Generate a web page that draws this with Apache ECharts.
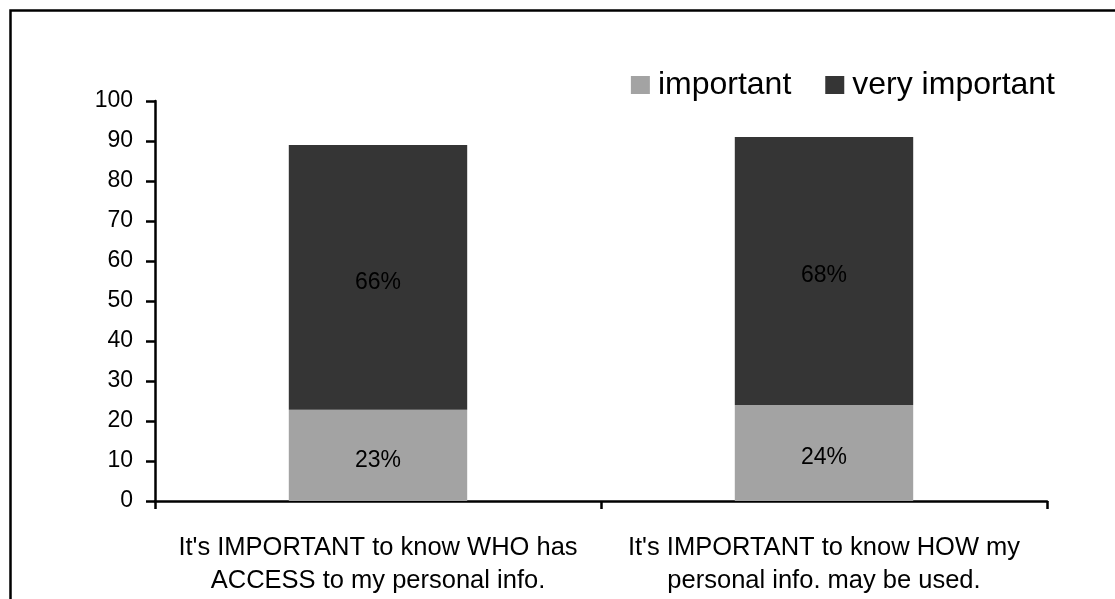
<!DOCTYPE html>
<html>
<head>
<meta charset="utf-8">
<script src="https://cdn.jsdelivr.net/npm/echarts@6/dist/echarts.min.js"></script>
<style>
  html, body { margin: 0; padding: 0; background: #fff; }
  #chart { width: 1115px; height: 599px; }
</style>
</head>
<body>
<div id="chart"></div>
<script>
// data
const categories = [
  "It's IMPORTANT to know WHO has\nACCESS to my personal info.",
  "It's IMPORTANT to know HOW my\npersonal info. may be used."
];
const seriesNames = ['important', 'very important'];
const important = [22.8, 24];
const veryImportant = [66.2, 67];
const importantLabels = ['23%', '24%'];
const veryImportantLabels = ['66%', '68%'];
const yTicks = { min: 0, max: 100, interval: 10 };

const FONT = '"Liberation Sans", Arial, sans-serif';
const chart = echarts.init(document.getElementById('chart'));

const barLabel = (labels) => ({
  show: true,
  position: 'inside',
  offset: [0, 5],
  color: '#000',
  fontFamily: FONT,
  fontSize: 23,
  formatter: (p) => labels[p.dataIndex],
});

chart.setOption({
  animation: false,
  backgroundColor: '#fff',
  graphic: [{
    type: 'rect',
    shape: { x: 10.5, y: 10.5, width: 1120, height: 620 },
    style: { fill: 'none', stroke: '#000', lineWidth: 2.5 },
    silent: true,
  }],
  legend: {
    right: 55,
    top: 64,
    itemWidth: 19,
    itemHeight: 18,
    itemGap: 34,
    icon: 'rect',
    data: seriesNames,
    textStyle: { fontFamily: FONT, fontSize: 32, color: '#000', padding: [0, 0, 0, 3] },
  },
  grid: { left: 155, right: 68, top: 101, bottom: 98, containLabel: false },
  xAxis: {
    type: 'category',
    data: categories,
    axisLine: { lineStyle: { color: '#000', width: 2.5 } },
    axisTick: { show: true, length: 8, lineStyle: { color: '#000', width: 2.5 } },
    axisLabel: {
      color: '#000',
      fontFamily: FONT,
      fontSize: 25.5,
      lineHeight: 33,
      margin: 30,
      interval: 0,
    },
  },
  yAxis: {
    type: 'value',
    min: yTicks.min,
    max: yTicks.max,
    interval: yTicks.interval,
    axisLine: { show: true, lineStyle: { color: '#000', width: 2.5 } },
    axisTick: { show: true, length: 9, lineStyle: { color: '#000', width: 2.5 } },
    splitLine: { show: false },
    axisLabel: { color: '#000', fontFamily: FONT, fontSize: 23, margin: 22, padding: [3, 0, 0, 0] },
  },
  series: [
    {
      name: seriesNames[0],
      type: 'bar',
      stack: 'total',
      barWidth: '40%',
      data: important,
      itemStyle: { color: '#a3a3a3' },
      label: barLabel(importantLabels),
    },
    {
      name: seriesNames[1],
      type: 'bar',
      stack: 'total',
      barWidth: '40%',
      data: veryImportant,
      itemStyle: { color: '#353535' },
      label: barLabel(veryImportantLabels),
    },
  ],
});
</script>
</body>
</html>
